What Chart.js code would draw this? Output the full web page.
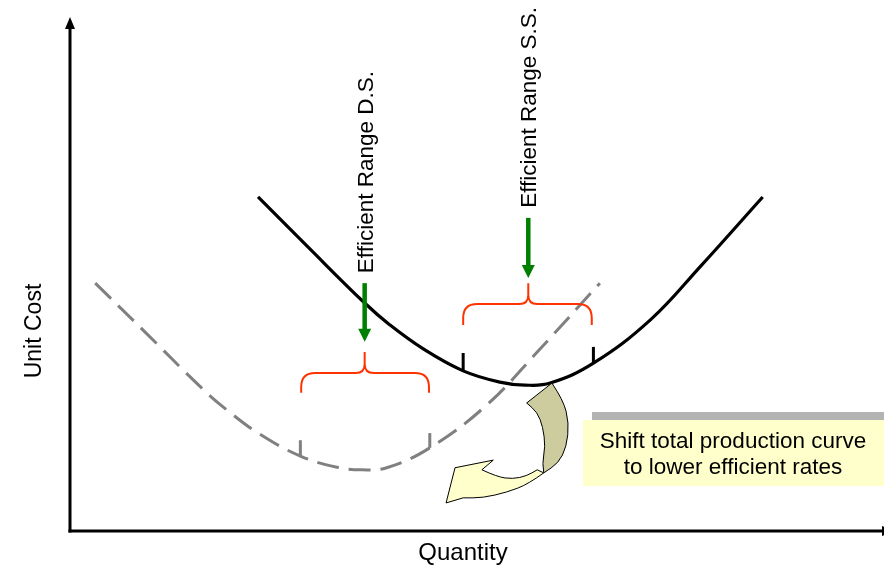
<!DOCTYPE html>
<html><head><meta charset="utf-8">
<script src="https://cdn.jsdelivr.net/npm/chart.js@4/dist/chart.umd.min.js"></script>
<style>html,body{margin:0;padding:0;background:#fff;}canvas{display:block;}</style>
</head><body>
<canvas id="c" width="884" height="566"></canvas>
<script>
// ---- data (abstract units: quantity 0-100, unit cost 0-100) ----
const totalQty   = [23.1,29.1,36.2,39.3,43.4,48.3,52.8,55.9,59.0,64.3,71.3,77.4,85.1];
const totalCost  = [65.5,55.9,44.7,40.4,35.7,31.4,29.2,28.6,29.0,32.9,41.4,51.8,65.5];
const shiftedQty  = [3.1,9.1,16.2,19.3,23.3,28.3,32.8,35.9,38.9,44.2,51.2,57.4,65.1];
const shiftedCost = [48.6,39.2,28.0,23.7,19.0,14.7,12.5,12.0,12.4,16.3,24.7,35.1,48.6];
// efficient range end marks: quantity, cost on curve, cost of mark top
const totalRangeQty   = [48.3,64.3];
const totalRangeCost  = [31.4,32.9];
const totalRangeTop   = [34.9,36.1];
const shiftedRangeQty  = [28.3,44.2];
const shiftedRangeCost = [14.7,16.3];
const shiftedRangeTop  = [17.8,19.2];
// braces: [leftQty, centerQty, rightQty, endCost, barCost, tipCost]
const braceDS = [28.4,36.2,44.1,27.1,31.0,35.1];
const braceSS = [48.3,56.3,64.1,40.4,44.5,48.6];
// pointer arrows: [qty, fromCost, toCost]
const arrowDS = [36.2,48.6,37.1];
const arrowSS = [56.3,61.4,49.6];
// texts
const axisTitles = ['Quantity','Unit Cost'];
const rangeLabels = ['Efficient Range D.S.','Efficient Range S.S.'];
const noteLines = ['Shift total production curve','to lower efficient rates'];
// shift arrow outline (quantity, cost)
const shiftBack = {
  top: [[56.1,25.1],[59.2,29.0]],
  outer: [[59.2,29.0],[60.6,25.7],[61.3,21.2],[61.0,16.5],[60.0,13.3],[58.2,11.4]],
  inner: [[58.2,11.4],[58.0,13.3],[58.4,16.5],[58.1,20.4],[57.4,23.3],[56.1,25.1]]
};
const shiftFront = {
  lower: [[58.2,11.4],[56.3,9.2],[53.7,7.6],[50.7,6.5],[48.3,6.5]],
  head: [[46.2,5.5],[47.3,12.4],[52.0,13.9],[50.6,12.0]],
  upper: [[50.6,12.0],[52.5,10.6],[54.4,10.2],[56.1,10.8],[57.4,12.0]]
};

const toPts = (xs, ys) => xs.map((v,i)=>({x:v,y:ys[i]}));

const datasets = [
  {data: toPts(shiftedQty, shiftedCost), borderColor:'#808080', borderWidth:3, borderDash:[22,10], tension:0.4},
  {data: toPts(totalQty, totalCost), borderColor:'#000', borderWidth:3.2, tension:0.4}
];
totalRangeQty.forEach((q,i)=>datasets.push({data:[{x:q,y:totalRangeCost[i]},{x:q,y:totalRangeTop[i]}], borderColor:'#000', borderWidth:3}));
shiftedRangeQty.forEach((q,i)=>datasets.push({data:[{x:q,y:shiftedRangeCost[i]},{x:q,y:shiftedRangeTop[i]}], borderColor:'#808080', borderWidth:3}));

function smooth(ctx, pts, move){
  if(move) ctx.moveTo(pts[0][0],pts[0][1]); else ctx.lineTo(pts[0][0],pts[0][1]);
  for(let i=1;i<pts.length-1;i++){
    const mx=(pts[i][0]+pts[i+1][0])/2, my=(pts[i][1]+pts[i+1][1])/2;
    ctx.quadraticCurveTo(pts[i][0],pts[i][1],mx,my);
  }
  const l=pts[pts.length-1]; ctx.lineTo(l[0],l[1]);
}

const deco = {
  id:'deco',
  afterDatasetsDraw(chart){
    const {ctx, chartArea:a} = chart;
    const sx=chart.scales.x, sy=chart.scales.y;
    const X=v=>sx.getPixelForValue(v), Y=v=>sy.getPixelForValue(v);
    const P=arr=>arr.map(p=>[X(p[0]),Y(p[1])]);
    ctx.save();
    // axes
    ctx.strokeStyle='#000'; ctx.fillStyle='#000'; ctx.lineWidth=3;
    ctx.beginPath(); ctx.moveTo(a.left,a.bottom+1.5); ctx.lineTo(a.left,a.top+8); ctx.stroke();
    ctx.beginPath(); ctx.moveTo(a.left,a.top-4); ctx.lineTo(a.left-5,a.top+8); ctx.lineTo(a.left+5,a.top+8); ctx.closePath(); ctx.fill();
    ctx.beginPath(); ctx.moveTo(a.left-1.5,a.bottom); ctx.lineTo(a.right-2,a.bottom); ctx.stroke();
    ctx.beginPath(); ctx.moveTo(a.right-2,a.bottom-5); ctx.lineTo(a.right+10,a.bottom); ctx.lineTo(a.right-2,a.bottom+5); ctx.closePath(); ctx.fill();

    // braces
    ctx.strokeStyle='#FF3300'; ctx.lineWidth=2;
    [braceDS, braceSS].forEach(b=>{
      const xl=X(b[0]), xc=X(b[1]), xr=X(b[2]), ye=Y(b[3]), yb=Y(b[4]), yt=Y(b[5]);
      const r=14, r2=9;
      ctx.beginPath();
      ctx.moveTo(xl,ye); ctx.lineTo(xl,yb+r); ctx.quadraticCurveTo(xl,yb,xl+r,yb);
      ctx.lineTo(xc-r2,yb); ctx.quadraticCurveTo(xc,yb,xc,yb-r2); ctx.lineTo(xc,yt);
      ctx.moveTo(xr,ye); ctx.lineTo(xr,yb+r); ctx.quadraticCurveTo(xr,yb,xr-r,yb);
      ctx.lineTo(xc+r2,yb); ctx.quadraticCurveTo(xc,yb,xc,yb-r2);
      ctx.stroke();
    });

    // green pointer arrows + labels
    ctx.font='22.5px "Liberation Sans", Arial, sans-serif';
    [[arrowDS,rangeLabels[0]],[arrowSS,rangeLabels[1]]].forEach(([ar,label])=>{
      const x=X(ar[0]), y0=Y(ar[1]), y1=Y(ar[2]);
      ctx.strokeStyle='#008000'; ctx.fillStyle='#008000'; ctx.lineWidth=4.5;
      ctx.beginPath(); ctx.moveTo(x,y0); ctx.lineTo(x,y1-12); ctx.stroke();
      ctx.beginPath(); ctx.moveTo(x-6.5,y1-13); ctx.lineTo(x+6.5,y1-13); ctx.lineTo(x,y1); ctx.closePath(); ctx.fill();
      ctx.save(); ctx.translate(x+8, y0-10); ctx.rotate(-Math.PI/2);
      ctx.fillStyle='#000'; ctx.textAlign='left'; ctx.textBaseline='alphabetic';
      ctx.fillText(label,0,0); ctx.restore();
    });

    // shift arrow
    ctx.lineWidth=1; ctx.strokeStyle='#000';
    ctx.beginPath();
    smooth(ctx,P(shiftFront.lower),true);
    P(shiftFront.head).forEach(p=>ctx.lineTo(p[0],p[1]));
    smooth(ctx,P(shiftFront.upper),false);
    ctx.closePath(); ctx.fillStyle='#FFFFCC'; ctx.fill(); ctx.stroke();
    ctx.beginPath();
    const t=P(shiftBack.top); ctx.moveTo(t[0][0],t[0][1]); ctx.lineTo(t[1][0],t[1][1]);
    smooth(ctx,P(shiftBack.outer),false);
    smooth(ctx,P(shiftBack.inner),false);
    ctx.closePath(); ctx.fillStyle='#CCCC9F'; ctx.fill(); ctx.stroke();

    // note box
    ctx.fillStyle='#B3B3B3'; ctx.fillRect(592,412,300,66);
    ctx.fillStyle='#FFFFCC'; ctx.fillRect(583,420,301,66);
    ctx.fillStyle='#000'; ctx.textAlign='center'; ctx.textBaseline='alphabetic';
    ctx.font='22.5px "Liberation Sans", Arial, sans-serif';
    ctx.fillText(noteLines[0],733,448);
    ctx.fillText(noteLines[1],733,474);

    // axis titles
    ctx.font='24px "Liberation Sans", Arial, sans-serif';
    ctx.fillText(axisTitles[0],463,560);
    ctx.save(); ctx.translate(41,331); ctx.rotate(-Math.PI/2);
    ctx.font='23px "Liberation Sans", Arial, sans-serif'; ctx.textAlign='center';
    ctx.fillText(axisTitles[1],0,0); ctx.restore();
    ctx.restore();
  }
};

new Chart(document.getElementById('c'),{
  type:'line',
  data:{datasets},
  options:{
    responsive:false, animation:false, devicePixelRatio:1,
    layout:{padding:{left:70,top:21,right:0,bottom:35}},
    elements:{point:{radius:0,hoverRadius:0}, line:{fill:false}},
    plugins:{legend:{display:false}, tooltip:{enabled:false}},
    events:[],
    scales:{
      x:{type:'linear',min:0,max:100,display:false},
      y:{type:'linear',min:0,max:100,display:false}
    }
  },
  plugins:[deco]
});
</script>
</body></html>
